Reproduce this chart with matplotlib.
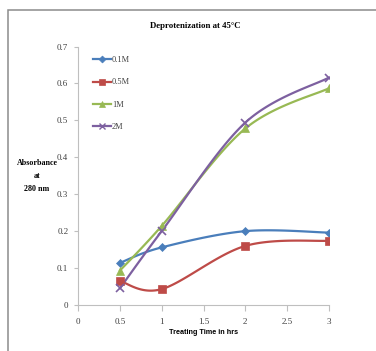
import numpy as np
import matplotlib
matplotlib.use("Agg")
import matplotlib.pyplot as plt
from matplotlib.patches import Rectangle
from matplotlib.lines import Line2D

time_hrs = [0.5, 1, 2, 3]
series_names = ["0.1M", "0.5M", "1M", "2M"]
abs_01M = [0.114, 0.156, 0.200, 0.196]
abs_05M = [0.065, 0.043, 0.160, 0.174]
abs_1M = [0.093, 0.214, 0.478, 0.587]
abs_2M = [0.045, 0.200, 0.494, 0.616]
x_ticks = [0, 0.5, 1, 1.5, 2, 2.5, 3]
x_tick_labels = ["0", "0.5", "1", "1.5", "2", "2.5", "3"]
y_ticks = [0, 0.1, 0.2, 0.3, 0.4, 0.5, 0.6, 0.7]
y_tick_labels = ["0", "0.1", "0.2", "0.3", "0.4", "0.5", "0.6", "0.7"]

colors = ["#4A7EBB", "#BE4B48", "#98B954", "#7D60A0"]
markers = ["D", "s", "^", "x"]
msizes = [4.5, 5.5, 5.5, 6]

serif = ["Liberation Serif", "DejaVu Serif"]
plt.rcParams["font.family"] = serif


def smooth(xs, ys, n=40):
    # Excel-style smoothed line (Catmull-Rom / Bezier with 1/6 tension)
    P = np.column_stack([xs, ys]).astype(float)
    ext = np.vstack([P[0], P, P[-1]])
    out = []
    for i in range(len(P) - 1):
        p0, p1, p2, p3 = ext[i], ext[i + 1], ext[i + 2], ext[i + 3]
        c1 = p1 + (p2 - p0) / 6.0
        c2 = p2 - (p3 - p1) / 6.0
        t = np.linspace(0, 1, n)[:, None]
        seg = ((1 - t) ** 3) * p1 + 3 * ((1 - t) ** 2) * t * c1 + 3 * (1 - t) * t ** 2 * c2 + t ** 3 * p2
        out.append(seg if i == 0 else seg[1:])
    s = np.vstack(out)
    return s[:, 0], s[:, 1]


fig = plt.figure(figsize=(3.76, 3.51), dpi=100)
fig.patches.append(Rectangle((8 / 376, -0.2), 1.2, 1 - 10 / 351 + 0.2, transform=fig.transFigure,
                             fill=False, edgecolor="#8C8C8C", linewidth=1.1, figure=fig))

ax = fig.add_axes([78 / 376, 46 / 351, (329 - 78) / 376, (305 - 46.5) / 351])
ax.set_xlim(0, 3)
ax.set_ylim(0, 0.7)

all_series = [abs_01M, abs_05M, abs_1M, abs_2M]
handles = []
for ys, c, m, ms, name in zip(all_series, colors, markers, msizes, series_names):
    sx, sy = smooth(time_hrs, ys)
    ax.plot(sx, sy, color=c, linewidth=1.6, solid_capstyle="round", zorder=2)
    ax.plot(time_hrs, ys, linestyle="none", marker=m, markersize=ms, color=c,
            markeredgewidth=1.2 if m == "x" else 0.5, zorder=3)
    handles.append(Line2D([0], [0], color=c, linewidth=1.6, marker=m, markersize=ms - 1,
                          markeredgewidth=1.0 if m == "x" else 0.5, label=name))

for s in ["top", "right"]:
    ax.spines[s].set_visible(False)
for s in ["left", "bottom"]:
    ax.spines[s].set_color("#BFBFBF")
    ax.spines[s].set_linewidth(0.8)

ax.set_xticks(x_ticks)
ax.set_xticklabels(x_tick_labels)
ax.set_yticks(y_ticks)
ax.set_yticklabels(y_tick_labels)
ax.tick_params(axis="both", colors="#BFBFBF", labelcolor="#404040", labelsize=6.5, width=0.8)
ax.tick_params(axis="x", length=4, direction="out", pad=5)
ax.tick_params(axis="y", length=3, direction="out", pad=4)

leg = ax.legend(handles=handles, loc="upper left", bbox_to_anchor=(0.045, 0.975), frameon=False,
                fontsize=6, handlelength=2.2, handletextpad=0.1, labelspacing=1.7,
                borderaxespad=0)
for t in leg.get_texts():
    t.set_color("#404040")

fig.text(195 / 376, 1 - 26 / 351, "Deprotenization at 45°C", ha="center", va="center",
         fontsize=6.3, fontweight="bold", family=serif)
fig.text(37 / 376, 1 - 176 / 351, "Absorbance\nat\n280 nm", ha="center", va="center",
         fontsize=5.8, fontweight="bold", family=serif, linespacing=1.9)
fig.text(204 / 376, 1 - 333 / 351, "Treating Time in hrs", ha="center", va="center",
         fontsize=5.2, fontweight="bold", family=["Liberation Sans", "DejaVu Sans"])

fig.savefig("out.png", dpi=100, facecolor="white")
